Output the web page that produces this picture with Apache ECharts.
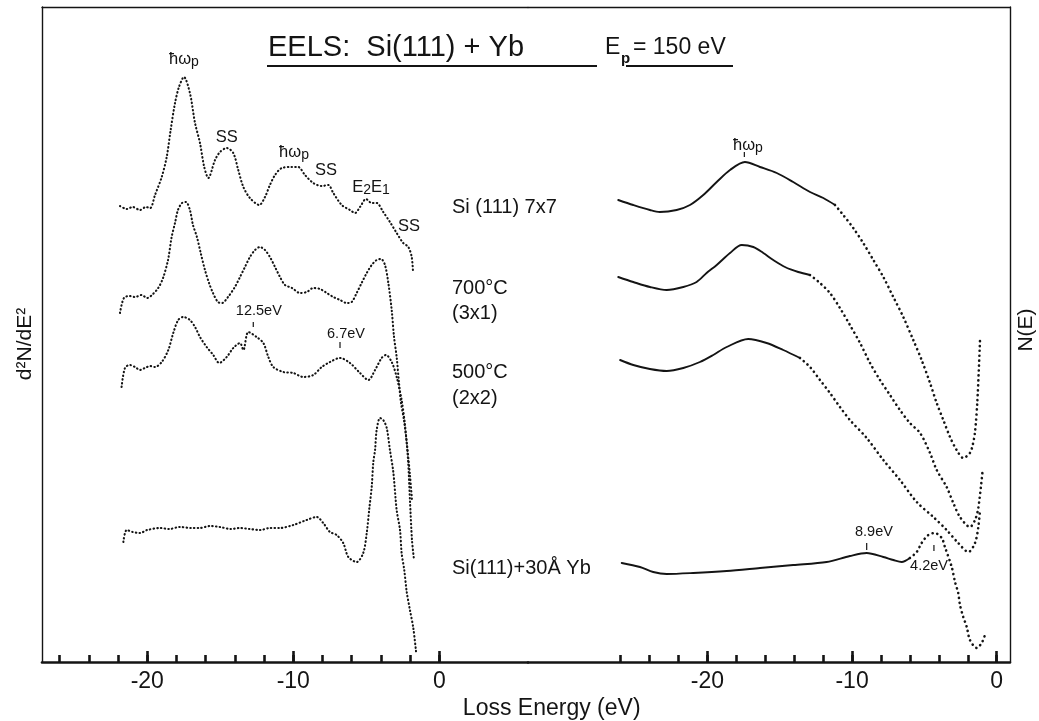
<!DOCTYPE html>
<html><head><meta charset="utf-8">
<script src="https://cdn.jsdelivr.net/npm/echarts@6/dist/echarts.min.js"></script>
<style>html,body{margin:0;padding:0;background:#fff}#c{width:1039px;height:721px}</style>
</head><body><div id="c"></div>
<script>
// ---- data: [loss energy (eV), intensity (a.u.)] ----
const L_7x7 = [[-21.87,456],[-21.40,453],[-21.00,455],[-20.50,452],[-20.10,455],[-19.80,454],[-19.47,467],[-19.01,485],[-18.67,505],[-18.40,532],[-18.10,559],[-17.83,575],[-17.49,585],[-17.08,569],[-16.73,539],[-16.39,519],[-16.10,495],[-15.82,484],[-15.36,502],[-15.02,510],[-14.56,514],[-14.11,509],[-13.77,492],[-13.42,475],[-12.97,464],[-12.33,457],[-11.94,465],[-11.60,477],[-11.25,487],[-10.79,494],[-10.11,495],[-9.66,495],[-9.20,487],[-8.63,479],[-8.05,476],[-7.60,477],[-7.26,469],[-6.68,457],[-6.12,452],[-5.77,449],[-5.43,455],[-5.02,463],[-4.63,459],[-4.29,459],[-3.84,450],[-3.38,440],[-2.92,429],[-2.47,419],[-2.12,415],[-1.89,405],[-1.80,390]];
const L_700 = [[-21.87,349],[-21.60,364],[-21.20,366],[-20.84,365],[-20.40,367],[-20.00,364],[-19.68,367],[-19.25,374],[-18.92,384],[-18.58,402],[-18.33,425],[-18.10,439],[-17.90,452],[-17.62,459],[-17.35,460],[-17.08,452],[-16.87,437],[-16.60,425],[-16.34,409],[-16.05,392],[-15.77,379],[-15.50,369],[-15.16,360],[-14.88,359],[-14.47,365],[-14.00,375],[-13.65,385],[-13.31,395],[-12.97,405],[-12.62,412],[-12.28,415],[-11.94,412],[-11.60,405],[-11.25,395],[-10.91,385],[-10.57,377],[-10.09,374],[-9.54,369],[-9.08,370],[-8.63,374],[-8.17,373],[-7.71,369],[-7.26,365],[-6.80,362],[-6.34,359],[-6.00,360],[-5.66,369],[-5.32,379],[-4.97,389],[-4.63,397],[-4.29,402],[-3.99,403],[-3.72,397],[-3.49,379],[-3.26,352],[-3.10,325],[-2.92,305],[-2.76,279],[-2.62,259],[-2.42,242],[-2.21,217],[-2.01,187],[-1.87,162]];
const L_500 = [[-21.76,275],[-21.53,294],[-21.20,297],[-20.84,295],[-20.50,292],[-20.16,294],[-19.80,296],[-19.47,295],[-19.01,300],[-18.56,312],[-18.22,329],[-17.88,342],[-17.53,345],[-17.08,342],[-16.73,335],[-16.39,325],[-15.93,315],[-15.48,307],[-15.07,299],[-14.56,305],[-14.11,314],[-13.65,319],[-13.42,312],[-13.08,330],[-12.51,325],[-12.05,319],[-11.71,305],[-11.37,295],[-10.68,290],[-10.00,289],[-9.32,285],[-8.63,287],[-8.05,295],[-7.49,300],[-6.80,304],[-6.12,299],[-5.43,289],[-4.86,282],[-4.40,292],[-3.95,304],[-3.65,307],[-3.26,300],[-2.92,285],[-2.58,262],[-2.35,237],[-2.14,202],[-2.01,162],[-1.87,122],[-1.73,102]];
const L_Yb = [[-21.64,120],[-21.41,132],[-21.00,130],[-20.50,129],[-20.00,132],[-19.13,134],[-18.50,133],[-17.77,135],[-17.00,134],[-16.39,134],[-15.70,136],[-15.02,135],[-14.30,133],[-13.65,134],[-13.00,133],[-12.28,132],[-11.60,134],[-10.91,134],[-10.00,137],[-9.08,142],[-8.40,145],[-7.95,139],[-7.49,130],[-7.03,127],[-6.58,119],[-6.23,105],[-5.66,100],[-5.21,109],[-4.97,129],[-4.79,154],[-4.63,175],[-4.52,200],[-4.40,212],[-4.29,232],[-4.06,244],[-3.84,242],[-3.60,234],[-3.38,212],[-3.15,190],[-2.92,152],[-2.69,132],[-2.58,109],[-2.40,92],[-2.23,70],[-2.01,52],[-1.78,34],[-1.59,10]];

const R_7x7 = [[-26.17,462],[-25.13,457],[-23.98,452],[-23.30,450],[-22.13,452],[-21.21,457],[-20.29,467],[-19.36,480],[-18.44,492],[-17.41,500],[-16.37,495],[-15.21,489],[-14.07,480],[-12.91,470],[-11.99,464],[-11.18,457],[-10.61,447],[-9.92,434],[-9.23,419],[-8.53,402],[-7.84,385],[-7.15,365],[-6.46,345],[-5.77,322],[-5.19,302],[-4.61,279],[-4.15,259],[-3.69,242],[-3.23,225],[-2.77,212],[-2.31,204],[-1.85,209],[-1.66,217],[-1.50,230],[-1.34,260],[-1.15,323]];
const R_700 = [[-26.17,385],[-25.13,380],[-23.98,375],[-22.82,372],[-21.67,375],[-20.75,380],[-20.06,389],[-19.36,397],[-18.44,409],[-17.63,417],[-16.83,415],[-16.14,409],[-15.45,402],[-14.64,395],[-13.72,390],[-12.91,387],[-12.22,379],[-11.53,369],[-10.84,354],[-10.15,337],[-9.45,319],[-8.76,299],[-8.07,282],[-7.38,267],[-6.69,252],[-6.00,239],[-5.30,229],[-4.61,209],[-4.15,192],[-3.46,175],[-3.00,159],[-2.54,145],[-1.85,135],[-1.50,142],[-1.27,154],[-0.97,192]];
const R_500 = [[-26.04,302],[-25.13,297],[-23.98,293],[-22.82,291],[-21.67,294],[-20.52,300],[-19.60,307],[-18.67,315],[-17.18,323],[-15.91,319],[-14.76,312],[-13.60,304],[-12.91,295],[-12.22,282],[-11.53,269],[-10.84,255],[-10.15,242],[-8.99,224],[-7.84,202],[-6.69,182],[-5.53,160],[-4.38,145],[-3.46,132],[-2.66,119],[-1.96,110],[-1.50,119],[-1.27,135],[-1.15,153]];
const R_Yb = [[-25.93,99],[-24.67,95],[-23.75,90],[-22.82,88],[-20.98,89],[-18.67,91],[-16.37,94],[-14.07,97],[-11.76,100],[-10.15,106],[-8.99,109],[-7.84,105],[-7.15,102],[-6.57,100],[-6.00,104],[-5.53,110],[-5.19,119],[-4.73,127],[-4.27,129],[-3.80,124],[-3.58,115],[-3.11,95],[-2.88,80],[-2.66,69],[-2.54,57],[-2.31,45],[-2.07,35],[-1.85,22],[-1.38,14],[-1.04,19],[-0.81,27]];

// tick values / labels
const TICKS_MINOR = [-26,-24,-22,-20,-18,-16,-14,-12,-10,-8,-6,-4,-2,0];
const TICKS_MAJOR = [-20,-10,0];

// peak annotations [E, intensity, text]
const L_NOTES = [[-17.49,603,'hwp'],[-14.56,525,'SS'],[-9.95,510,'hwp'],[-7.76,492,'SS'],[-4.68,475,'E2E1'],[-2.08,436,'SS'],[-12.36,351,'12.5eV'],[-6.39,328,'6.7eV']];
const L_MARKS = [[-12.74,335,340],[-6.80,314,320]];
const R_NOTES = [[-17.20,517,'hwp'],[-8.49,130,'8.9eV'],[-4.68,96,'4.2eV']];
const R_MARKS = [[-17.45,505,510],[-8.99,112,119],[-4.34,111,117]];

// right-panel curves: solid up to this energy, dotted afterwards (style only)
const R_SOLID_UNTIL = [-11.18,-12.91,-13.60,-6.00];

// ---- chart ----
const FONT = '"Liberation Sans", Arial, sans-serif';
const INK = '#141414';
const chart = echarts.init(document.getElementById('c'), null, {renderer:'canvas'});

function richText(k){
  if (k === 'hwp') return '{m|ħω}{s|p}';
  if (k === 'E2E1') return '{m|E}{s|2}{m|E}{s|1}';
  if (/eV$/.test(k)) return '{n|' + k + '}';
  return '{m|' + k + '}';
}
const RICH = {
  m:{fontSize:16.5, fontFamily:FONT, color:INK, opacity:1, lineHeight:17, verticalAlign:'top'},
  s:{fontSize:14, fontFamily:FONT, color:INK, opacity:1, lineHeight:14, padding:[6,0,0,0]},
  n:{fontSize:14.5, fontFamily:FONT, color:INK, opacity:1, lineHeight:16}
};

const series = [];
const dotL = {color:INK, width:2.1, type:[0.5,3.2], cap:'round'};
const solidR = {color:INK, width:1.9, cap:'round', join:'round'};
const dotR = {color:INK, width:2.6, type:[0.1,4.8], cap:'round'};
function curve(d, xi, yi, ls){
  series.push({type:'line', xAxisIndex:xi, yAxisIndex:yi, data:d, symbol:'none', showSymbol:false,
    smooth:0.3, lineStyle:ls, silent:true, clip:false, z:3});
}
[L_7x7, L_700, L_500, L_Yb].forEach(d => curve(d, 0, 0, dotL));
[R_7x7, R_700, R_500, R_Yb].forEach((d, i) => {
  const s = R_SOLID_UNTIL[i];
  curve(d.filter(p => p[0] <= s), 3, 1, solidR);
  curve(d.filter(p => p[0] >= s), 3, 1, dotR);
});
function notes(list, xi, yi){
  series.push({type:'scatter', xAxisIndex:xi, yAxisIndex:yi, symbolSize:0, silent:true, clip:false, z:6,
    itemStyle:{color:INK, opacity:1},
    data:list.map(n => ({value:[n[0], n[1]], label:{formatter:richText(n[2])}})),
    label:{show:true, position:'inside', align:'center', verticalAlign:'middle', color:INK, opacity:1, textBorderWidth:0, rich:RICH}});
}
function marks(list, xi, yi){
  list.forEach(t => series.push({type:'line', xAxisIndex:xi, yAxisIndex:yi, data:[[t[0],t[1]],[t[0],t[2]]],
    symbol:'none', lineStyle:{color:INK, width:1.2}, silent:true, clip:false, z:6}));
}
notes(L_NOTES, 0, 0); marks(L_MARKS, 0, 0);
notes(R_NOTES, 3, 1); marks(R_MARKS, 3, 1);

function xAxes(grid, min, max){
  const base = {type:'value', gridIndex:grid, min:min, max:max, splitLine:{show:false}};
  return [
    Object.assign({}, base, {position:'bottom',
      axisLine:{show:true, onZero:false, lineStyle:{color:INK, width:2.6}},
      axisTick:{show:true, inside:true, length:7, customValues:TICKS_MINOR, lineStyle:{color:INK, width:2.6}},
      axisLabel:{show:false}}),
    Object.assign({}, base, {position:'bottom',
      axisLine:{show:false, onZero:false},
      axisTick:{show:true, inside:true, length:11, customValues:TICKS_MAJOR, lineStyle:{color:INK, width:2.6}},
      axisLabel:{show:true, customValues:TICKS_MAJOR, fontSize:23, fontFamily:FONT, color:INK, margin:8,
        formatter:v => String(v)}}),
    Object.assign({}, base, {position:'top',
      axisLine:{show:true, onZero:false, lineStyle:{color:INK, width:1.4}},
      axisTick:{show:false}, axisLabel:{show:false}})
  ];
}

const txt = (x, y, text, size, weight) => ({type:'text', x:x, y:y, silent:true,
  style:{text:text, font:(weight || '') + ' ' + size + 'px ' + FONT, fill:INK, textAlign:'left', textVerticalAlign:'middle', align:'left', verticalAlign:'middle'}});

chart.setOption({
  animation:false,
  backgroundColor:'#fff',
  grid:[
    {left:42, top:7, width:486, height:655},
    {left:528, top:7, width:482, height:655}
  ],
  xAxis:[].concat(xAxes(0, -27.21, 6.075), xAxes(1, -32.41, 0.92)),
  yAxis:[
    {type:'value', gridIndex:0, min:0, max:655, position:'left', splitLine:{show:false},
      axisLine:{show:true, onZero:false, lineStyle:{color:INK, width:1.4}}, axisTick:{show:false}, axisLabel:{show:false}},
    {type:'value', gridIndex:1, min:0, max:655, position:'right', splitLine:{show:false},
      axisLine:{show:true, onZero:false, lineStyle:{color:INK, width:1.4}}, axisTick:{show:false}, axisLabel:{show:false}}
  ],
  series:series,
  graphic:[
    txt(268, 47.5, 'EELS:  Si(111) + Yb', 29),
    {type:'line', silent:true, shape:{x1:267, y1:66, x2:597, y2:66}, style:{stroke:INK, lineWidth:2}},
    txt(605, 48, 'E', 23),
    txt(621, 59, 'p', 15, 'bold'),
    txt(633, 48, '= 150 eV', 23),
    {type:'line', silent:true, shape:{x1:626, y1:66, x2:733, y2:66}, style:{stroke:INK, lineWidth:2}},
    txt(452, 207, 'Si (111) 7x7', 20),
    txt(452, 288, '700°C', 20),
    txt(452, 313, '(3x1)', 20),
    txt(452, 372, '500°C', 20),
    txt(452, 398, '(2x2)', 20),
    txt(452, 568, 'Si(111)+30Å Yb', 20),
    {type:'text', x:551.7, y:709, silent:true, style:{text:'Loss Energy (eV)', font:'23px ' + FONT, fill:INK, textAlign:'center', textVerticalAlign:'middle', align:'center', verticalAlign:'middle'}},
    {type:'text', x:25, y:344, rotation:Math.PI/2, silent:true, style:{text:'d²N/dE²', font:'21px ' + FONT, fill:INK, textAlign:'center', textVerticalAlign:'middle', align:'center', verticalAlign:'middle'}},
    {type:'text', x:1026, y:330, rotation:Math.PI/2, silent:true, style:{text:'N(E)', font:'21px ' + FONT, fill:INK, textAlign:'center', textVerticalAlign:'middle', align:'center', verticalAlign:'middle'}}
  ]
});
</script></body></html>
